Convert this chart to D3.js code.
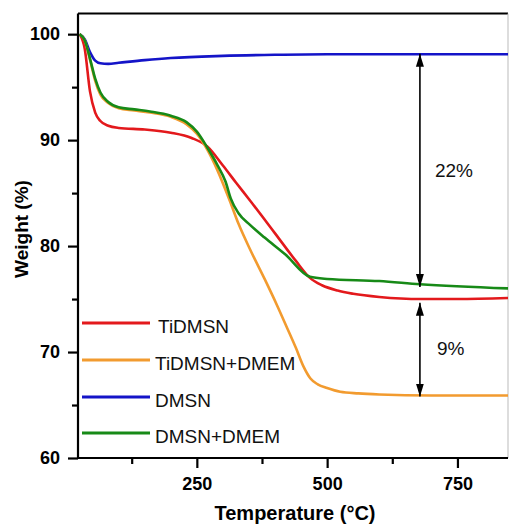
<!DOCTYPE html>
<html><head><meta charset="utf-8">
<script src="https://cdn.jsdelivr.net/npm/d3@7"></script>
<style>html,body{margin:0;padding:0;background:#fff;}svg{display:block;}</style>
</head><body>
<div id="chart"></div>
<script>
// ---- data ----
const seriesNames = ["TiDMSN", "TiDMSN+DMEM", "DMSN", "DMSN+DMEM"];
const seriesColors = ["#e3191c", "#f29b2f", "#1414c8", "#178a17"];

const tiDMSN = [[25,100],[35,98.6],[45,94.6],[55,92.6],[65,91.8],[80,91.35],[100,91.15],[150,91.0],[200,90.7],[240,90.2],[270,89.4],[300,87.6],[325,86.0],[352,84.3],[400,81.2],[440,78.6],[467,77.0],[490,76.3],[520,75.8],[550,75.5],[600,75.2],[680,75.0],[750,75.0],[850,75.1]];
const tiDMSN_DMEM = [[25,100],[35,99.4],[45,97.6],[55,95.6],[65,94.3],[80,93.5],[100,93.0],[130,92.8],[160,92.6],[200,92.2],[230,91.5],[250,90.6],[270,89.1],[290,87.1],[313,84.3],[330,82.1],[352,79.7],[380,76.9],[404,74.4],[423,72.3],[440,70.4],[455,68.6],[468,67.5],[482,66.95],[500,66.6],[525,66.25],[560,66.1],[600,66.0],[700,65.9],[850,65.9]];
const dMSN = [[25,100],[35,99.5],[45,98.3],[55,97.5],[65,97.25],[80,97.2],[100,97.3],[150,97.55],[200,97.75],[300,97.95],[400,98.05],[500,98.1],[600,98.1],[700,98.1],[850,98.1]];
const dMSN_DMEM = [[25,100],[35,99.4],[45,97.7],[55,95.8],[65,94.5],[80,93.6],[100,93.1],[130,92.9],[160,92.7],[200,92.3],[230,91.7],[250,90.8],[270,89.3],[290,87.6],[305,86.1],[315,84.5],[330,83.1],[352,82.0],[380,80.8],[420,79.2],[467,77.1],[500,76.9],[600,76.7],[678,76.4],[850,76.0]];
const seriesValues = [tiDMSN, tiDMSN_DMEM, dMSN, dMSN_DMEM];
const drawOrder = [2, 0, 1, 3];

const xTicksMajor = [250, 500, 750];
const xTicksMinor = [125, 375, 625];
const yTicksMajor = [60, 70, 80, 90, 100];
const yTicksMinor = [65, 75, 85, 95];

// annotations: [temperature, from weight, to weight, label]
const annotations = [[678, 98.15, 76.15, "22%"], [678, 74.65, 65.8, "9%"]];
const annotationLabelY = [86.5, 69.7];

// ---- layout ----
const W = 509, H = 527;
const L = 78, R = 508, T = 13.5, B = 458;
const svg = d3.select("#chart").append("svg").attr("width", W).attr("height", H);

const x = d3.scaleLinear().domain([22, 847]).range([L, R]);
const y = d3.scaleLinear().domain([60, 101.95]).range([B, T]);

svg.append("defs").append("clipPath").attr("id", "clip")
  .append("rect").attr("x", L).attr("y", T).attr("width", R - L).attr("height", B - T);

// frame: top and right
svg.append("line").attr("x1", L).attr("x2", R).attr("y1", T).attr("y2", T)
  .attr("stroke", "#000").attr("stroke-width", 2);
svg.append("line").attr("x1", R).attr("x2", R).attr("y1", T).attr("y2", B)
  .attr("stroke", "#bbb").attr("stroke-width", 1);

// curves
const line = d3.line().x(d => x(d[0])).y(d => y(d[1])).curve(d3.curveMonotoneX);
const g = svg.append("g").attr("clip-path", "url(#clip)");
drawOrder.forEach(i => {
  g.append("path").datum(seriesValues[i]).attr("d", line)
    .attr("fill", "none").attr("stroke", seriesColors[i]).attr("stroke-width", 2.6)
    .attr("stroke-linejoin", "round");
});

// axes
const fontB = "'Liberation Sans', Arial, sans-serif";
const yAxis = d3.axisLeft(y).tickValues(yTicksMajor).tickSize(10).tickPadding(8).tickFormat(d3.format("d"));
const yAx = svg.append("g").attr("transform", `translate(${L},0)`).call(yAxis);
const yAxMinor = svg.append("g").attr("transform", `translate(${L},0)`)
  .call(d3.axisLeft(y).tickValues(yTicksMinor).tickSize(6).tickFormat(""));
const xAxis = d3.axisBottom(x).tickValues(xTicksMajor).tickSize(10).tickPadding(9).tickFormat(d3.format("d"));
const xAx = svg.append("g").attr("transform", `translate(0,${B})`).call(xAxis);
const xAxMinor = svg.append("g").attr("transform", `translate(0,${B})`)
  .call(d3.axisBottom(x).tickValues(xTicksMinor).tickSize(6).tickFormat(""));
[yAx, yAxMinor, xAx, xAxMinor].forEach(a => {
  a.select(".domain").attr("stroke", "#000").attr("stroke-width", 2.2);
  a.selectAll(".tick line").attr("stroke", "#000").attr("stroke-width", 2.2);
  a.selectAll(".tick text").attr("fill", "#000").style("font-family", fontB)
    .style("font-weight", "bold").style("font-size", "18px");
});
yAxMinor.select(".domain").remove();
xAxMinor.select(".domain").remove();
xAx.select(".domain").attr("d", `M${L},0H${R}`);
yAx.select(".domain").attr("d", `M0,${T}V${B}`);

// axis titles
svg.append("text").attr("x", (L + R) / 2 + 2).attr("y", 520).attr("text-anchor", "middle")
  .style("font-family", fontB).style("font-weight", "bold").style("font-size", "20px")
  .text("Temperature (°C)");
svg.append("text").attr("transform", "translate(28,229) rotate(-90)").attr("text-anchor", "middle")
  .style("font-family", fontB).style("font-weight", "bold").style("font-size", "19px")
  .text("Weight (%)");

// legend
const legY = [323, 360, 397, 433];
seriesNames.forEach((n, i) => {
  svg.append("line").attr("x1", 82).attr("x2", 150).attr("y1", legY[i]).attr("y2", legY[i])
    .attr("stroke", seriesColors[i]).attr("stroke-width", 3);
  svg.append("text").attr("x", i === 0 ? 158 : 155).attr("y", legY[i] + 10)
    .style("font-family", fontB).style("font-size", "19px").attr("fill", "#111").text(n);
});

// annotation arrows
const defs = svg.select("defs");
defs.append("marker").attr("id", "ah").attr("viewBox", "0 0 13 10").attr("refX", 13).attr("refY", 5)
  .attr("markerWidth", 13).attr("markerHeight", 10).attr("markerUnits", "userSpaceOnUse")
  .attr("orient", "auto-start-reverse")
  .append("path").attr("d", "M0,1 L13,5 L0,9 Z").attr("fill", "#000");
annotations.forEach((a, i) => {
  svg.append("line").attr("x1", x(a[0])).attr("x2", x(a[0])).attr("y1", y(a[1])).attr("y2", y(a[2]))
    .attr("stroke", "#000").attr("stroke-width", 1.6)
    .attr("marker-start", "url(#ah)").attr("marker-end", "url(#ah)");
  svg.append("text").attr("x", x(a[0]) + (i === 0 ? 15 : 17)).attr("y", y(annotationLabelY[i]))
    .style("font-family", fontB).style("font-size", "19px").attr("fill", "#111").text(a[3]);
});
</script>
</body></html>
